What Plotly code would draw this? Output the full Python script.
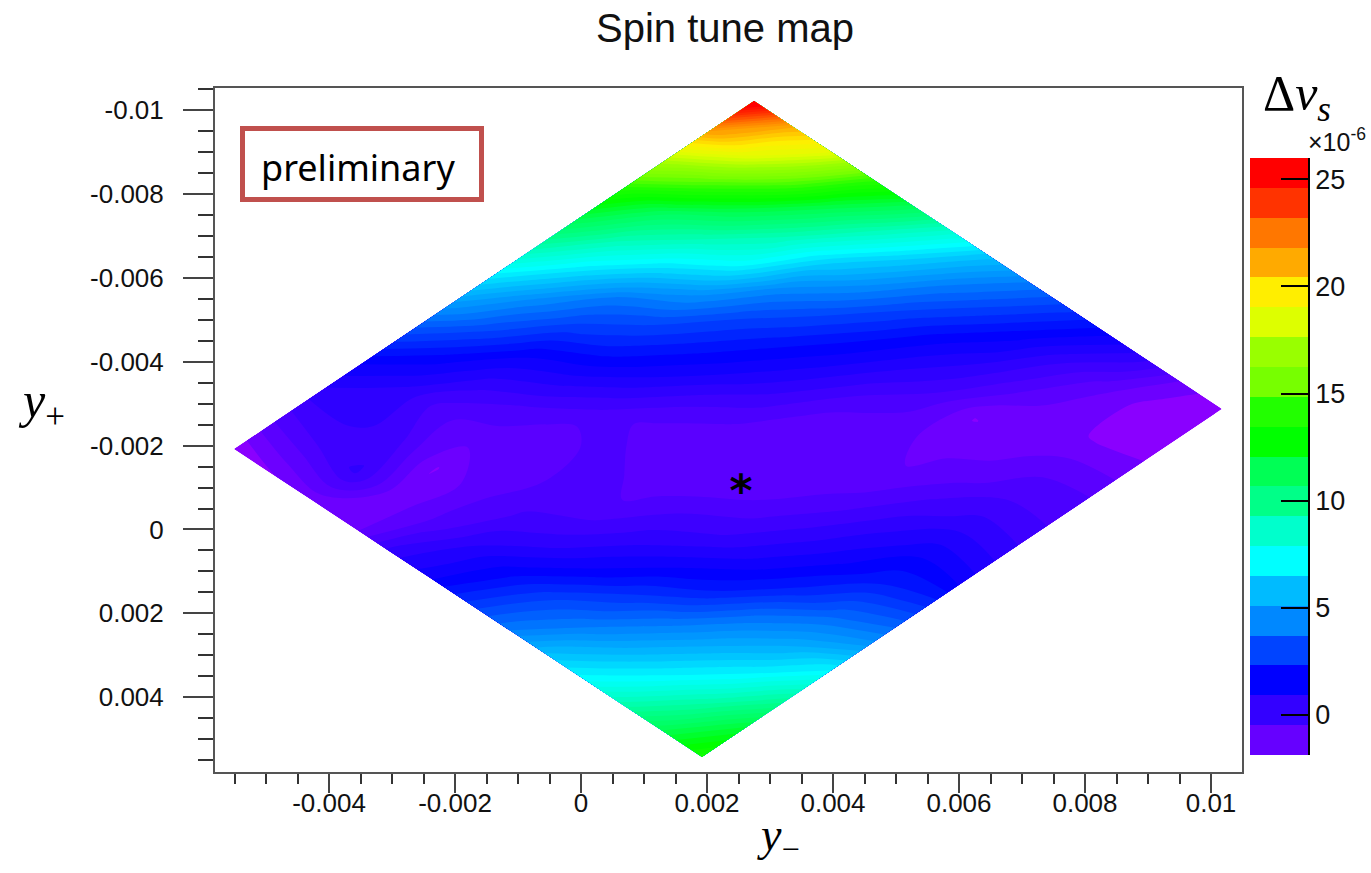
import plotly.graph_objects as go

W, H = 1371, 873

# grid of the scan, four corners in (y_minus, y_plus)
corner_left = (-0.005508, -0.00192)
corner_top = (0.002746, -0.010219)
corner_bottom = (0.00192, 0.005426)
n_nodes = 13
scan_a = list(range(n_nodes))
scan_b = list(range(n_nodes))

# spin tune shift (x 1e-6), rows = b, columns = a
dnu = [
    [-1.85, -0.6, 0.4, 1.4, 3.0, 4.8, 6.8, 9.2, 11.5, 14.0, 17.5, 21.5, 26.0],
    [-1.5, -0.3, 0.3, 0.5, 1.5, 3.0, 4.4, 6.5, 8.8, 11.0, 14.6, 18.5, 21.0],
    [-1.4, 0.2, -0.2, -0.6, 0.3, 1.4, 2.8, 4.1, 6.5, 8.9, 11.5, 15.0, 18.5],
    [-1.4, -1.4, -1.5, -0.9, -0.4, 0.7, 1.9, 3.0, 4.6, 7.0, 9.0, 11.5, 14.5],
    [0.3, -0.6, -0.8, -1.0, -0.9, -0.2, 0.9, 1.9, 2.9, 4.3, 6.3, 8.8, 11.5],
    [1.2, 0.6, -0.2, -0.5, -0.4, -0.9, -0.2, 0.9, 1.8, 2.9, 4.4, 6.2, 8.6],
    [2.6, 1.6, 0.4, -0.4, -0.9, -1.0, -0.8, -0.1, 0.8, 1.7, 2.8, 4.2, 6.0],
    [4.0, 2.9, 1.4, 0.4, -0.3, -1.0, -1.0, -1.0, -0.3, 0.6, 1.5, 2.8, 4.2],
    [5.8, 4.0, 2.6, 1.3, 0.2, -0.5, -1.0, -1.0, -0.9, -0.3, 0.5, 1.5, 2.8],
    [7.2, 5.5, 3.9, 2.2, 1.1, 0.3, -0.4, -1.0, -1.2, -1.5, -0.6, 0.2, 1.5],
    [9.2, 7.0, 5.4, 3.9, 2.2, 1.2, 0.5, -0.2, -0.9, -1.3, -1.4, -0.9, 0.3],
    [11.4, 9.2, 6.9, 5.2, 3.6, 2.2, 1.3, 0.4, -0.3, -0.8, -1.5, -1.7, -1.2],
    [13.5, 11.8, 9.4, 6.9, 4.5, 2.8, 1.2, 0.3, -0.3, -0.7, -1.4, -1.8, -1.9],
]

map_scale_values = [-1.88, -1.19, 0.2, 1.6, 3.0, 4.4, 5.8, 7.2, 8.6, 10.0, 11.4, 12.8,
                    14.2, 15.6, 17.0, 18.4, 19.8, 21.2, 22.6, 24.0, 25.4, 26.0]
map_scale_colors = ["#9900ff", "#6600ff", "#3300ff", "#0000ff", "#0044ff", "#0088ff", "#00bbff",
                    "#00ffff", "#00ffcc", "#00ff88", "#00ff55", "#00ff00", "#22ff00", "#77ff00",
                    "#99ff00", "#ddff00", "#ffee00", "#ffaa00", "#ff7700", "#ff3300", "#ff0000", "#ff0000"]

# palette box, bottom to top
bar_colors = ["#6600ff", "#3300ff", "#0000ff", "#0044ff", "#0088ff", "#00bbff", "#00ffff",
              "#00ffcc", "#00ff88", "#00ff55", "#00ff00", "#22ff00", "#77ff00", "#99ff00",
              "#ddff00", "#ffee00", "#ffaa00", "#ff7700", "#ff3300", "#ff0000"]
bar_low, bar_high = -1.88, 26.0
bar_ticks = [0, 5, 10, 15, 20, 25]

x_ticks = [-0.004, -0.002, 0, 0.002, 0.004, 0.006, 0.008, 0.01]
x_labels = ["-0.004", "-0.002", "0", "0.002", "0.004", "0.006", "0.008", "0.01"]
y_ticks = [-0.01, -0.008, -0.006, -0.004, -0.002, 0, 0.002, 0.004]
y_labels = ["-0.01", "-0.008", "-0.006", "-0.004", "-0.002", "0", "0.002", "0.004"]
x_range = [-0.00581, 0.010492]
y_range = [0.005784, -0.01053]
star_point = ([0.00254], [-0.00082])

TEXT = "Liberation Sans"
MATH = "Liberation Serif"

grid_x = []
grid_y = []
for b in scan_b:
    row_x, row_y = [], []
    for a in scan_a:
        u, v = a / (n_nodes - 1), b / (n_nodes - 1)
        row_x.append(corner_left[0] + u * (corner_top[0] - corner_left[0]) + v * (corner_bottom[0] - corner_left[0]))
        row_y.append(corner_left[1] + u * (corner_top[1] - corner_left[1]) + v * (corner_bottom[1] - corner_left[1]))
    grid_x.append(row_x)
    grid_y.append(row_y)

span = bar_high - bar_low
map_scale = [[(v - bar_low) / span, c] for v, c in zip(map_scale_values, map_scale_colors)]

hidden = dict(showgrid=False, showline=False, showticklabels="none", startline=False, endline=False,
              minorgridcount=0, smoothing=0, title=dict(text=""))

fig = go.Figure()
fig.add_trace(go.Carpet(carpet="scan", a=scan_a, b=scan_b, x=grid_x, y=grid_y,
                        aaxis=hidden, baxis=hidden, xaxis="x", yaxis="y"))
fig.add_trace(go.Contourcarpet(carpet="scan", a=scan_a, b=scan_b, z=dnu,
                               autocontour=False,
                               contours=dict(start=-1.88, end=26.0, size=0.4, coloring="fill", showlines=False),
                               line=dict(width=0),
                               colorscale=map_scale, zmin=bar_low, zmax=bar_high,
                               showscale=False, xaxis="x", yaxis="y"))
fig.add_trace(go.Scatter(x=star_point[0], y=star_point[1], mode="text", text=["<b>*</b>"],
                         textposition="middle center",
                         textfont=dict(family="DejaVu Sans", size=44, color="black"),
                         showlegend=False, xaxis="x", yaxis="y"))

n_bands = len(bar_colors)
step = span / n_bands
bar_edges = [bar_low + i * step for i in range(n_bands + 1)]
bar_scale = []
for i, c in enumerate(bar_colors):
    bar_scale.append([i / n_bands, c])
    bar_scale.append([(i + 1) / n_bands, c])
fig.add_trace(go.Heatmap(x=[0, 1], y=bar_edges, z=[[i] for i in range(n_bands)],
                         zmin=-0.5, zmax=n_bands - 0.5, colorscale=bar_scale,
                         showscale=False, xaxis="x2", yaxis="y2"))

axis_line = dict(showline=True, linecolor="#555555", linewidth=2, mirror=True, showgrid=False, zeroline=False)
fig.update_layout(
    width=W, height=H, autosize=False,
    margin=dict(l=0, r=0, t=0, b=0, pad=0),
    paper_bgcolor="white", plot_bgcolor="white", showlegend=False,
    font=dict(family=TEXT, color="#111111", size=26),
    xaxis=dict(domain=[215 / W, 1242 / W], range=x_range, anchor="y",
               tickmode="array", tickvals=x_ticks, ticktext=x_labels,
               ticks="outside", ticklen=19, tickwidth=1.5, tickcolor="#444444", ticklabelstandoff=-12,
               minor=dict(dtick=0.0005, tick0=0, ticks="outside", ticklen=10, tickwidth=1.5, tickcolor="#333333"),
               tickfont=dict(family=TEXT, size=26), **axis_line),
    yaxis=dict(domain=[1 - 772 / H, 1 - 88 / H], range=y_range, anchor="x",
               tickmode="array", tickvals=y_ticks, ticktext=y_labels,
               ticks="outside", ticklen=30, tickwidth=1.5, tickcolor="#444444", ticklabelstandoff=14,
               minor=dict(dtick=0.0005, tick0=0, ticks="outside", ticklen=15, tickwidth=1.5, tickcolor="#333333"),
               tickfont=dict(family=TEXT, size=26), **axis_line),
    xaxis2=dict(domain=[1250 / W, 1308 / W], range=[0, 1], anchor="y2", showticklabels=False,
                ticks="", showgrid=False, zeroline=False, showline=False),
    yaxis2=dict(domain=[1 - 755 / H, 1 - 158 / H], range=[bar_low, bar_high], anchor="x2", side="right",
                tickmode="array", tickvals=bar_ticks, ticks="inside", ticklen=27, tickwidth=1.5,
                tickcolor="black", showline=True, linecolor="black", linewidth=1.5,
                showgrid=False, zeroline=False, tickfont=dict(family=TEXT, size=27)),
    shapes=[dict(type="rect", xref="paper", yref="paper",
                 x0=242.5 / W, x1=481.5 / W, y0=1 - 199.5 / H, y1=1 - 128.5 / H,
                 line=dict(color="#C0504D", width=5), fillcolor="rgba(0,0,0,0)")],
    annotations=[
        dict(text="Spin tune map", xref="paper", yref="paper", x=725 / W, y=1 - 28 / H, showarrow=False,
             xanchor="center", yanchor="middle", font=dict(family=TEXT, size=40, color="#111111")),
        dict(text="preliminary", xref="paper", yref="paper", x=358 / W, y=1 - 167 / H, showarrow=False,
             xanchor="center", yanchor="middle", font=dict(family="Noto Sans", size=36, color="black")),
        dict(text="<i>y</i><sub>+</sub>", xref="paper", yref="paper", x=41 / W, y=1 - 404 / H, showarrow=False,
             xanchor="center", yanchor="middle", font=dict(family=MATH, size=50, color="black")),
        dict(text="<i>y</i><sub>\u2212</sub>", xref="paper", yref="paper", x=778 / W, y=1 - 838 / H, showarrow=False,
             xanchor="center", yanchor="middle", font=dict(family=MATH, size=46, color="black")),
        dict(text="\u0394<i>\u03bd</i><sub><i>s</i></sub>", xref="paper", yref="paper", x=1297 / W, y=1 - 97 / H,
             showarrow=False, xanchor="center", yanchor="middle", font=dict(family=MATH, size=50, color="black")),
        dict(text="\u00d710<sup>-6</sup>", xref="paper", yref="paper", x=1337 / W, y=1 - 140 / H, showarrow=False,
             xanchor="center", yanchor="middle", font=dict(family=TEXT, size=25, color="#111111")),
    ],
)

fig.write_html("out.html", config=dict(displayModeBar=False),
               post_script="document.body.style.margin='0';document.body.style.overflow='hidden';")
